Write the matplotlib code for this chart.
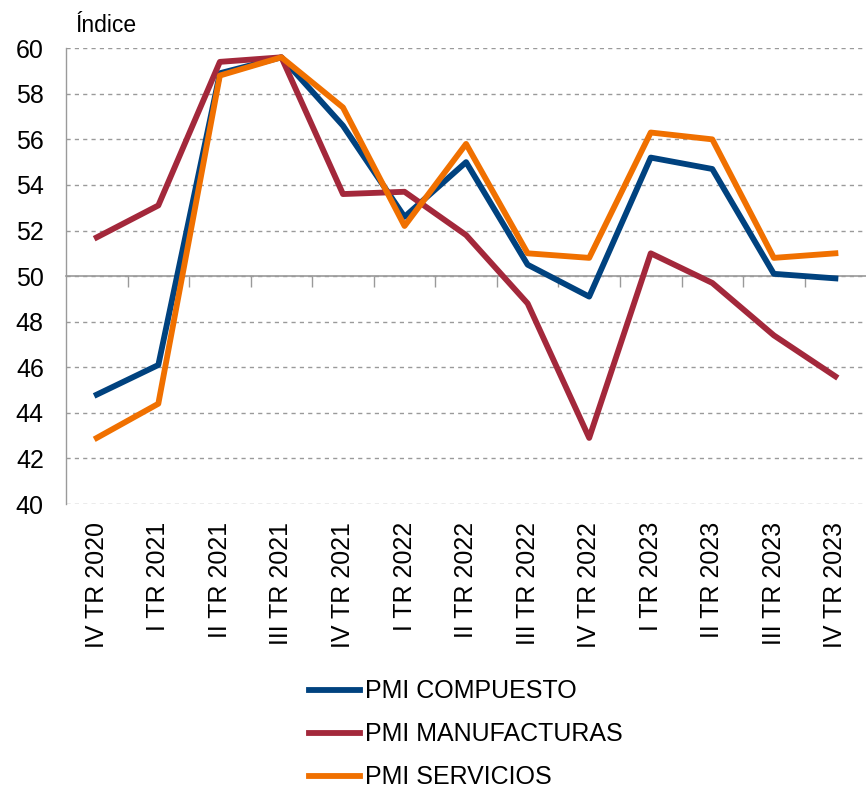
import matplotlib.pyplot as plt
import numpy as np

plt.rcParams["font.family"] = ["Liberation Sans", "DejaVu Sans"]

QUARTERS = [
    "IV TR 2020", "I TR 2021", "II TR 2021", "III TR 2021", "IV TR 2021",
    "I TR 2022", "II TR 2022", "III TR 2022", "IV TR 2022",
    "I TR 2023", "II TR 2023", "III TR 2023", "IV TR 2023",
]
PMI_COMPUESTO = [44.8, 46.1, 58.9, 59.6, 56.6, 52.6, 55.0, 50.5, 49.1, 55.2, 54.7, 50.1, 49.9]
PMI_MANUFACTURAS = [51.7, 53.1, 59.4, 59.6, 53.6, 53.7, 51.8, 48.8, 42.9, 51.0, 49.7, 47.4, 45.6]
PMI_SERVICIOS = [42.9, 44.4, 58.8, 59.6, 57.4, 52.2, 55.8, 51.0, 50.8, 56.3, 56.0, 50.8, 51.0]

BLUE = "#00427F"
RED = "#A3283B"
ORANGE = "#F07000"
GRID = "#9A9A9A"

x = np.arange(len(QUARTERS))

fig = plt.figure(figsize=(8.66, 7.90), dpi=100)
ax = fig.add_axes([0.0762, 0.362, 0.924, 0.577])

lw = 4.2
ax.plot(x, PMI_COMPUESTO, color=BLUE, lw=lw, label="PMI COMPUESTO", zorder=3)
ax.plot(x, PMI_MANUFACTURAS, color=RED, lw=lw, label="PMI MANUFACTURAS", zorder=3)
ax.plot(x, PMI_SERVICIOS, color=ORANGE, lw=lw, label="PMI SERVICIOS", zorder=4)

ax.set_xlim(-0.5, len(QUARTERS) - 0.5)
ax.set_ylim(40, 60)
ax.set_yticks(np.arange(40, 61, 2))
ax.tick_params(axis="y", length=0, pad=16, labelsize=18)

ax.grid(axis="y", color=GRID, lw=1.0, linestyle=(0, (3, 3)))
ax.set_axisbelow(True)
for side in ("top", "right", "bottom"):
    ax.spines[side].set_visible(False)
ax.spines["left"].set_color(GRID)
ax.spines["left"].set_linewidth(1.0)

# category labels along the bottom
ax.set_xticks(x)
ax.set_xticklabels(QUARTERS, rotation=90, fontsize=18, va="top", ha="center")
ax.tick_params(axis="x", length=0, pad=13)

# axis line through 50 with inward ticks between categories
sec = ax.secondary_xaxis(0.5)
sec.set_xticks(np.arange(0.5, len(QUARTERS) - 0.5, 1.0))
sec.set_xticklabels([])
sec.tick_params(axis="x", direction="in", length=8, width=1.0, color=GRID)
for sp in sec.spines.values():
    sp.set_color(GRID)
    sp.set_linewidth(1.2)

fig.text(0.087, 0.968, "Índice", fontsize=16.5, ha="left", va="center")

fig.legend(
    loc="upper left", bbox_to_anchor=(0.3425, 0.156),
    frameon=False, fontsize=18, handlelength=2.05, handletextpad=0.2,
    labelspacing=0.76, borderpad=0,
)

fig.savefig("out.png", dpi=100)
